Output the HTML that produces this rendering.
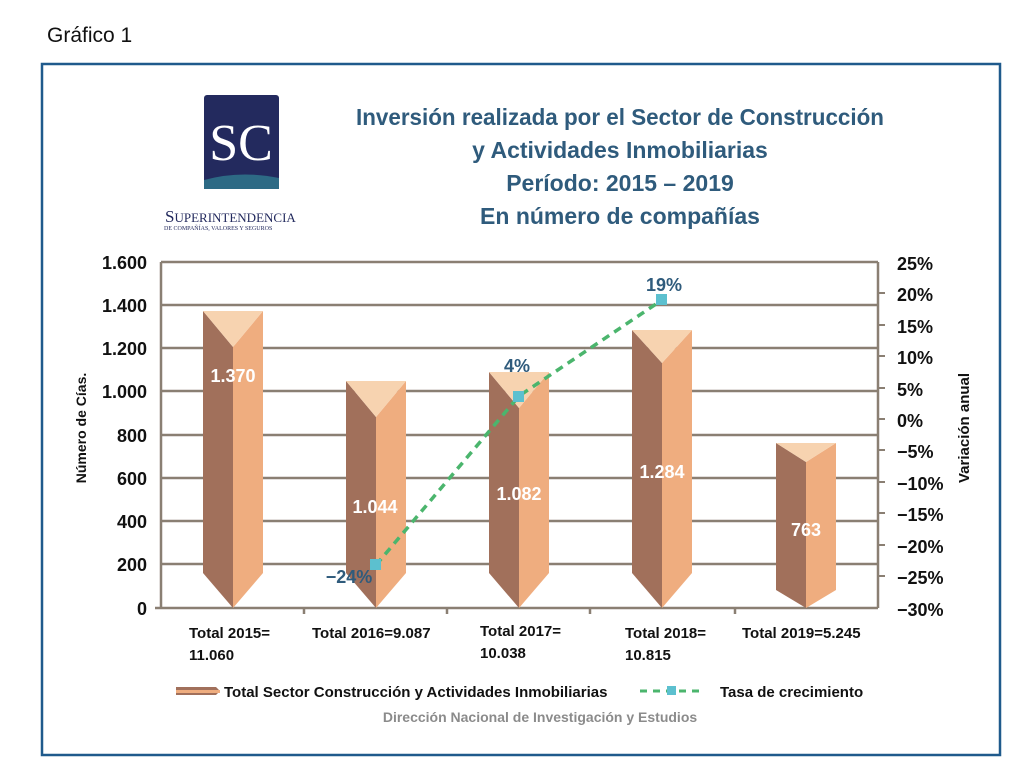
<!DOCTYPE html>
<html><head><meta charset="utf-8"><style>
body{margin:0;width:1019px;height:770px;background:#fff;overflow:hidden;font-family:"Liberation Sans",sans-serif}
</style></head><body>
<svg width="1019" height="770" xmlns="http://www.w3.org/2000/svg" font-family="Liberation Sans, sans-serif">
<text x="47" y="42" font-size="21" fill="#111">Gráfico 1</text>
<rect x="42" y="64" width="958" height="691" fill="none" stroke="#1f5a8c" stroke-width="2.5"/>
<!-- logo -->
<rect x="204" y="95" width="75" height="94" rx="3" fill="#232a5e"/>
<path d="M204 180 Q240 170 279 178 L279 189 L204 189Z" fill="#2d6a85"/>
<text x="241" y="160" font-family="Liberation Serif,serif" font-size="52" fill="#fff" text-anchor="middle">SC</text>
<text x="165" y="222" font-family="Liberation Serif,serif" font-size="17" fill="#232a5e">S<tspan font-size="13">UPERINTENDENCIA</tspan></text>
<text x="164" y="230" font-family="Liberation Serif,serif" font-size="6" fill="#232a5e">DE COMPAÑÍAS, VALORES Y SEGUROS</text>
<!-- title -->
<g font-weight="bold" font-size="23" fill="#2f5b7c" text-anchor="middle">
<text x="620" y="125" textLength="528" lengthAdjust="spacingAndGlyphs">Inversión realizada por el Sector de Construcción</text>
<text x="620" y="158">y Actividades Inmobiliarias</text>
<text x="620" y="191">Período: 2015 – 2019</text>
<text x="620" y="224">En número de compañías</text>
</g>
<!-- grid -->
<g stroke="#8a7f73" stroke-width="2.5">
<line x1="161" y1="262" x2="878" y2="262"/><line x1="161" y1="305" x2="878" y2="305"/>
<line x1="161" y1="348" x2="878" y2="348"/><line x1="161" y1="391" x2="878" y2="391"/>
<line x1="161" y1="435" x2="878" y2="435"/><line x1="161" y1="478" x2="878" y2="478"/>
<line x1="161" y1="521" x2="878" y2="521"/><line x1="161" y1="564" x2="878" y2="564"/>
<line x1="155" y1="608" x2="878" y2="608"/>
<line x1="161" y1="262" x2="161" y2="608"/><line x1="878" y1="262" x2="878" y2="608"/>
<line x1="304" y1="608" x2="304" y2="614"/><line x1="447" y1="608" x2="447" y2="614"/><line x1="590" y1="608" x2="590" y2="614"/><line x1="735" y1="608" x2="735" y2="614"/>
<g stroke-width="2">
<line x1="878" y1="293" x2="885" y2="293"/><line x1="878" y1="325" x2="885" y2="325"/><line x1="878" y1="356" x2="885" y2="356"/><line x1="878" y1="388" x2="885" y2="388"/><line x1="878" y1="419" x2="885" y2="419"/><line x1="878" y1="450" x2="885" y2="450"/><line x1="878" y1="482" x2="885" y2="482"/><line x1="878" y1="513" x2="885" y2="513"/><line x1="878" y1="545" x2="885" y2="545"/><line x1="878" y1="576" x2="885" y2="576"/>
</g></g>
<!-- bars -->
<g>
<polygon points="203,311 233,347 233,608 203,573" fill="#a1705b"/>
<polygon points="233,347 263,311 263,573 233,608" fill="#efad7f"/>
<polygon points="203,311 263,311 233,347" fill="#f7d3b0"/>
<polygon points="346,381 376,417 376,608 346,573" fill="#a1705b"/>
<polygon points="376,417 406,381 406,573 376,608" fill="#efad7f"/>
<polygon points="346,381 406,381 376,417" fill="#f7d3b0"/>
<polygon points="489,372 519,408 519,608 489,573" fill="#a1705b"/>
<polygon points="519,408 549,372 549,573 519,608" fill="#efad7f"/>
<polygon points="489,372 549,372 519,408" fill="#f7d3b0"/>
<polygon points="632,330 662,363 662,608 632,573" fill="#a1705b"/>
<polygon points="662,363 692,330 692,573 662,608" fill="#efad7f"/>
<polygon points="632,330 692,330 662,363" fill="#f7d3b0"/>
<polygon points="776,443 806,462 806,608 776,590" fill="#a1705b"/>
<polygon points="806,462 836,443 836,590 806,608" fill="#efad7f"/>
<polygon points="776,443 836,443 806,462" fill="#f7d3b0"/>
</g>
<g font-weight="bold" font-size="18" fill="#fff" text-anchor="middle">
<text x="233" y="382">1.370</text><text x="375" y="513">1.044</text><text x="519" y="500">1.082</text><text x="662" y="478">1.284</text><text x="806" y="536">763</text>
</g>
<!-- line -->
<polyline points="376,565 519,396 662,300" fill="none" stroke="#4bb56d" stroke-width="3.5" stroke-dasharray="8,6"/>
<g fill="#5cc0cf"><rect x="370" y="559" width="11" height="11"/><rect x="513" y="391" width="11" height="11"/><rect x="656" y="294" width="11" height="11"/></g>
<g font-size="18" font-weight="bold" fill="#2f5b7c" text-anchor="middle">
<text x="349" y="583">−24%</text><text x="517" y="372">4%</text><text x="664" y="291">19%</text>
</g>
<!-- axis labels -->
<g font-weight="bold" font-size="18" fill="#111" text-anchor="end">
<text x="147" y="269">1.600</text><text x="147" y="312">1.400</text><text x="147" y="355">1.200</text><text x="147" y="398">1.000</text><text x="147" y="442">800</text><text x="147" y="485">600</text><text x="147" y="528">400</text><text x="147" y="571">200</text><text x="147" y="615">0</text>
</g>
<g font-weight="bold" font-size="18" fill="#111">
<text x="897" y="270">25%</text><text x="897" y="301">20%</text><text x="897" y="333">15%</text><text x="897" y="364">10%</text><text x="897" y="396">5%</text><text x="897" y="427">0%</text><text x="897" y="458">−5%</text><text x="897" y="490">−10%</text><text x="897" y="521">−15%</text><text x="897" y="553">−20%</text><text x="897" y="584">−25%</text><text x="897" y="616">−30%</text>
</g>
<text transform="translate(86,428) rotate(-90)" font-weight="bold" font-size="14" fill="#111" text-anchor="middle">Número de Cías.</text>
<text transform="translate(969,428) rotate(-90)" font-weight="bold" font-size="15" fill="#111" text-anchor="middle">Variación anual</text>
<g font-weight="bold" font-size="15" fill="#111">
<text x="189" y="638">Total 2015=</text><text x="189" y="660">11.060</text>
<text x="312" y="638">Total 2016=9.087</text>
<text x="480" y="636">Total 2017=</text><text x="480" y="658">10.038</text>
<text x="625" y="638">Total 2018=</text><text x="625" y="660">10.815</text>
<text x="742" y="638">Total 2019=5.245</text>
</g>
<!-- legend -->
<polygon points="176,687 216,687 220,691 216,695 176,695" fill="#a1705b"/>
<rect x="176" y="690" width="44" height="3" fill="#efad7f"/>
<text x="224" y="697" font-weight="bold" font-size="15" fill="#111">Total Sector Construcción y Actividades Inmobiliarias</text>
<line x1="640" y1="691" x2="705" y2="691" stroke="#4bb56d" stroke-width="3" stroke-dasharray="7,6"/>
<rect x="667" y="686" width="9" height="9" fill="#5cc0cf"/>
<text x="720" y="697" font-weight="bold" font-size="15" fill="#111">Tasa de crecimiento</text>
<text x="540" y="722" font-weight="bold" font-size="14" fill="#8b8b8b" text-anchor="middle">Dirección Nacional de Investigación y Estudios</text>
</svg>
</body></html>
